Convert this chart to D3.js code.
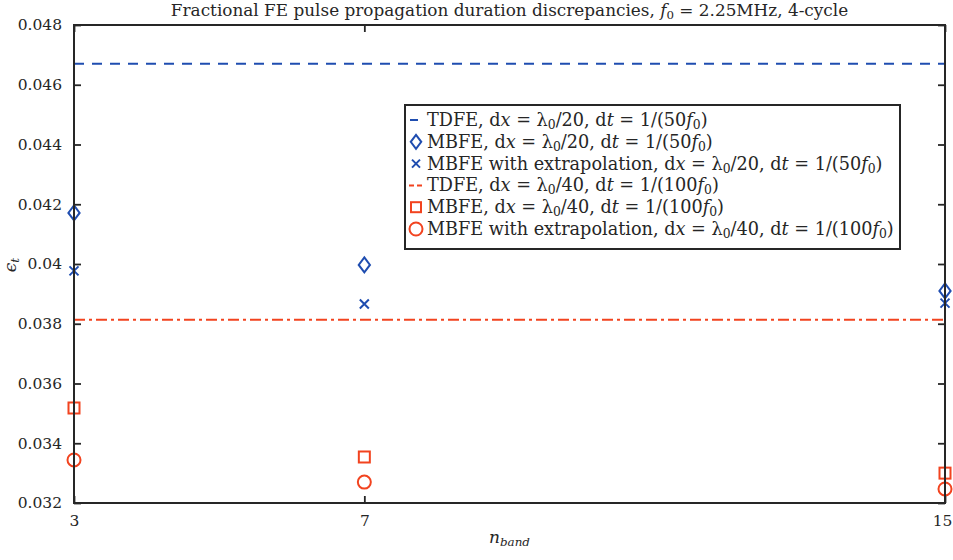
<!DOCTYPE html>
<html>
<head>
<meta charset="utf-8">
<script src="https://cdn.jsdelivr.net/npm/d3@7"></script>
<style>
  body { margin: 0; background: #fff; }
  text { font-family: "DejaVu Serif", "Liberation Serif", serif; fill: #262626; }
</style>
</head>
<body>
<div id="chart"></div>
<script>
var width = 953;
var height = 560;

// data
var bands = [3, 7, 15];
var tdfeCoarse = 0.0467;
var tdfeFine = 0.03813;
var mbfeCoarse = [0.04171, 0.03997, 0.03910];
var mbfeExtCoarse = [0.03977, 0.03866, 0.03869];
var mbfeFine = [0.03518, 0.03354, 0.03300];
var mbfeExtFine = [0.03344, 0.03270, 0.03247];
var yTicks = [0.032, 0.034, 0.036, 0.038, 0.04, 0.042, 0.044, 0.046, 0.048];
var legendLabels = [
  "TDFE, d*x* = λ_{0}/20, d*t* = 1/(50*f*_{0})",
  "MBFE, d*x* = λ_{0}/20, d*t* = 1/(50*f*_{0})",
  "MBFE with extrapolation, d*x* = λ_{0}/20, d*t* = 1/(50*f*_{0})",
  "TDFE, d*x* = λ_{0}/40, d*t* = 1/(100*f*_{0})",
  "MBFE, d*x* = λ_{0}/40, d*t* = 1/(100*f*_{0})",
  "MBFE with extrapolation, d*x* = λ_{0}/40, d*t* = 1/(100*f*_{0})"
];
var titleText = "Fractional FE pulse propagation duration discrepancies, *f*_{0} = 2.25MHz, 4-cycle";

var blue = "#1f4db0";
var red = "#f2431f";
var axisCol = "#262626";
var serif = "'DejaVu Serif', 'Liberation Serif', serif";

var m = {left: 74, right: 945, top: 25, bottom: 503};

var x = d3.scaleLinear().domain([3, 15]).range([m.left, m.right]);
var y = d3.scaleLinear().domain([0.032, 0.048]).range([m.bottom, m.top]);

var svg = d3.select("#chart").append("svg")
  .attr("width", width)
  .attr("height", height);

// rich text: *..* italic, _{..} subscript (may hold *..* inside)
function richText(sel, str) {
  var re = /(_\{[^}]+\})|(\*[^*]+\*)/g;
  var last = 0, mt;
  while ((mt = re.exec(str)) !== null) {
    if (mt.index > last) sel.append("tspan").text(str.slice(last, mt.index));
    if (mt[1]) {
      var inner = mt[1].slice(2, -1);
      var it = /^\*.*\*$/.test(inner);
      sel.append("tspan").attr("baseline-shift", "-25%").style("font-size", "70%")
        .style("font-style", it ? "italic" : null)
        .text(it ? inner.slice(1, -1) : inner);
    } else {
      sel.append("tspan").style("font-style", "italic").text(mt[2].slice(1, -1));
    }
    last = re.lastIndex;
  }
  if (last < str.length) sel.append("tspan").text(str.slice(last));
  return sel;
}

// scale a text's font size so it spans a given width
function fitWidth(sel, target) {
  var fs = parseFloat(sel.style("font-size"));
  var w = sel.node().getComputedTextLength();
  sel.style("font-size", (fs * target / w).toFixed(2) + "px");
  return fs * target / w;
}

// reference lines
svg.append("line")
  .attr("x1", m.left).attr("x2", m.right)
  .attr("y1", y(tdfeCoarse)).attr("y2", y(tdfeCoarse))
  .attr("stroke", blue).attr("stroke-width", 2)
  .attr("stroke-dasharray", "10,8");

svg.append("line")
  .attr("x1", m.left).attr("x2", m.right)
  .attr("y1", y(tdfeFine)).attr("y2", y(tdfeFine))
  .attr("stroke", red).attr("stroke-width", 2)
  .attr("stroke-dasharray", "11,4,3,4");

// marker painters
function diamond(g, cx, cy, s) {
  g.append("path")
    .attr("d", "M" + cx + "," + (cy - s) + "L" + (cx + s * 0.75) + "," + cy + "L" + cx + "," + (cy + s) + "L" + (cx - s * 0.75) + "," + cy + "Z")
    .attr("fill", "none").attr("stroke", blue).attr("stroke-width", 2);
}
function cross(g, cx, cy, s) {
  g.append("path")
    .attr("d", "M" + (cx - s) + "," + (cy - s) + "L" + (cx + s) + "," + (cy + s) + "M" + (cx - s) + "," + (cy + s) + "L" + (cx + s) + "," + (cy - s))
    .attr("fill", "none").attr("stroke", blue).attr("stroke-width", 2);
}
function square(g, cx, cy, s) {
  g.append("rect")
    .attr("x", cx - s).attr("y", cy - s).attr("width", 2 * s).attr("height", 2 * s)
    .attr("fill", "none").attr("stroke", red).attr("stroke-width", 2);
}
function circle(g, cx, cy, s) {
  g.append("circle")
    .attr("cx", cx).attr("cy", cy).attr("r", s)
    .attr("fill", "none").attr("stroke", red).attr("stroke-width", 2);
}

var marks = svg.append("g");
bands.forEach(function (b, i) {
  diamond(marks, x(b), y(mbfeCoarse[i]), 7.5);
  cross(marks, x(b), y(mbfeExtCoarse[i]), 4.5);
  square(marks, x(b), y(mbfeFine[i]), 5.5);
  circle(marks, x(b), y(mbfeExtFine[i]), 6.5);
});

// axes (MATLAB style box with inward ticks)
var tickLen = 7;
svg.append("g")
  .attr("transform", "translate(" + m.left + ",0)")
  .call(d3.axisLeft(y).tickValues(yTicks).tickSizeInner(-tickLen).tickSizeOuter(0)
    .tickPadding(tickLen + 5).tickFormat(function (d) { return String(+d.toFixed(3)); }))
  .attr("font-family", serif).attr("font-size", 15.5)
  .call(function (g) {
    g.select(".domain").remove();
    g.selectAll("text").attr("fill", axisCol);
  });

svg.append("g")
  .attr("transform", "translate(" + m.right + ",0)")
  .call(d3.axisRight(y).tickValues(yTicks).tickSizeInner(-tickLen).tickSizeOuter(0).tickFormat(""))
  .call(function (g) { g.select(".domain").remove(); });

svg.append("g")
  .attr("transform", "translate(0," + m.bottom + ")")
  .call(d3.axisBottom(x).tickValues(bands).tickSizeInner(-tickLen).tickSizeOuter(0).tickPadding(tickLen + 5))
  .attr("font-family", serif).attr("font-size", 15.5)
  .call(function (g) {
    g.select(".domain").remove();
    g.selectAll("text").attr("fill", axisCol)
      // keep the last label inside the window, as in the reference
      .attr("dx", function (d) { return d === 15 ? -3 : 0; });
  });

svg.append("g")
  .attr("transform", "translate(0," + m.top + ")")
  .call(d3.axisTop(x).tickValues(bands).tickSizeInner(-tickLen).tickSizeOuter(0).tickFormat(""))
  .call(function (g) { g.select(".domain").remove(); });

svg.selectAll(".tick line").attr("stroke", axisCol).attr("stroke-width", 1.8);

svg.append("rect")
  .attr("x", m.left).attr("y", m.top)
  .attr("width", m.right - m.left).attr("height", m.bottom - m.top)
  .attr("fill", "none").attr("stroke", axisCol).attr("stroke-width", 2);

// title and axis labels
var title = richText(svg.append("text")
  .attr("x", (m.left + m.right) / 2).attr("y", 16)
  .attr("text-anchor", "middle").style("font-size", "15px"), titleText);
fitWidth(title, 678);

richText(svg.append("text")
  .attr("x", (m.left + m.right) / 2).attr("y", 543)
  .attr("text-anchor", "middle").style("font-size", "17px"),
  "*n*_{*band*}");

richText(svg.append("text")
  .attr("transform", "translate(16," + 265 + ") rotate(-90)")
  .attr("text-anchor", "middle").style("font-size", "17px"),
  "*ϵ*_{*t*}");

// legend
var lg = {x: 405, y: 105, w: 495, h: 144, row: 21.8};
var legend = svg.append("g");
legend.append("rect")
  .attr("x", lg.x).attr("y", lg.y).attr("width", lg.w).attr("height", lg.h)
  .attr("fill", "#fff").attr("stroke", axisCol).attr("stroke-width", 2);

var legendTexts = [];
legendLabels.forEach(function (lab, i) {
  var cy = lg.y + 15 + i * lg.row;
  var mx = lg.x + 11;
  if (i === 0) {
    legend.append("line").attr("x1", mx - 6).attr("x2", mx + 2).attr("y1", cy).attr("y2", cy)
      .attr("stroke", blue).attr("stroke-width", 2);
  } else if (i === 1) diamond(legend, mx, cy, 7);
  else if (i === 2) cross(legend, mx, cy, 4);
  else if (i === 3) {
    legend.append("line").attr("x1", mx - 7).attr("x2", mx + 6).attr("y1", cy).attr("y2", cy)
      .attr("stroke", red).attr("stroke-width", 2).attr("stroke-dasharray", "5,3");
  } else if (i === 4) square(legend, mx, cy, 5);
  else circle(legend, mx, cy, 6.5);

  legendTexts.push(richText(legend.append("text")
    .attr("x", lg.x + 22).attr("y", cy + 6)
    .style("font-size", "17px"), lab));
});
// size all legend rows from the longest one
var legendFs = fitWidth(legendTexts[5], 467);
legendTexts.forEach(function (t) { t.style("font-size", legendFs.toFixed(2) + "px"); });
</script>
</body>
</html>
